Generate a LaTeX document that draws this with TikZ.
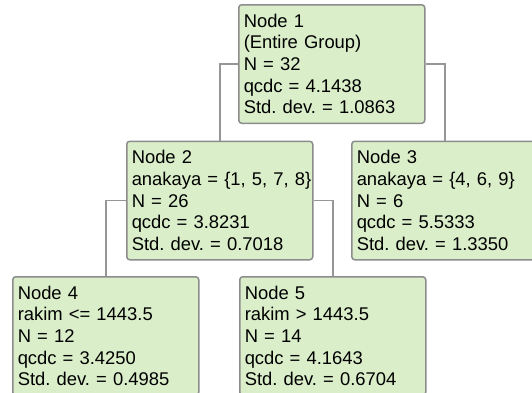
\documentclass[tikz,border=0pt]{standalone}
\usepackage{fontspec}
\setmainfont{Liberation Sans}
\definecolor{boxfill}{RGB}{218,238,202}
\definecolor{boxline}{RGB}{140,140,140}
\definecolor{connline}{RGB}{150,150,150}
\frenchspacing
\begin{document}
\begin{tikzpicture}[x=1pt,y=-1pt,
  treebox/.style={draw=boxline, fill=boxfill, line width=1.5pt, rounded corners=3pt,
    anchor=north west, minimum width=186pt, minimum height=118.5pt,
    text width=176pt, inner xsep=5pt, inner ysep=3pt, align=left,
    font=\fontsize{18.4pt}{21.7pt}\selectfont\frenchspacing},
  conn/.style={draw=connline, line width=1.6pt}]
\useasboundingbox (0,0) rectangle (532,392);
\clip (0,0) rectangle (532,392);
\fill[white] (0,0) rectangle (532,392);
\node[treebox] (n1) at (238,4) {Node 1\\(Entire Group)\\N = 32\\qcdc = 4.1438\\Std. dev. = 1.0863};
\node[treebox] (n2) at (126,140.5) {Node 2\\\mbox{anakaya = \{1, 5, 7, 8\}}\\N = 26\\qcdc = 3.8231\\Std. dev. = 0.7018};
\node[treebox] (n3) at (351,140.5) {Node 3\\\mbox{anakaya = \{4, 6, 9\}}\\N = 6\\qcdc = 5.5333\\Std. dev. = 1.3350};
\node[treebox] (n4) at (12,276) {Node 4\\rakim <= 1443.5\\N = 12\\qcdc = 3.4250\\Std. dev. = 0.4985};
\node[treebox] (n5) at (239,276) {Node 5\\rakim > 1443.5\\N = 14\\qcdc = 4.1643\\Std. dev. = 0.6704};
\draw[conn] (n1.west) -| (n2.north);
\draw[conn] (n1.east) -| (n3.north);
\draw[conn] (n2.west) -| (n4.north);
\draw[conn] (n2.east) -| (n5.north);
\end{tikzpicture}
\end{document}
